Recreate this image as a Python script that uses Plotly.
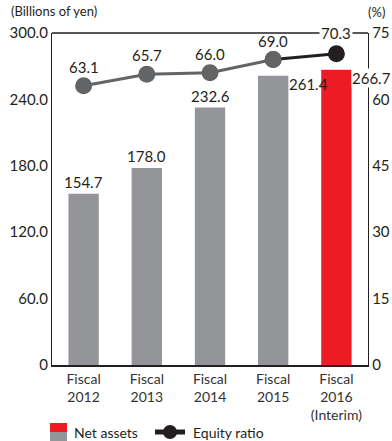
import plotly.graph_objects as go

categories = ["Fiscal<br>2012", "Fiscal<br>2013", "Fiscal<br>2014", "Fiscal<br>2015", "Fiscal<br>2016<br>(Interim)"]
net_assets = [154.7, 178.0, 232.6, 261.4, 266.7]
equity_ratio = [63.1, 65.7, 66.0, 69.0, 70.3]
left_ticks = [0, 60, 120, 180, 240, 300]
left_tick_text = ["0", "60.0", "120.0", "180.0", "240.0", "300.0"]
right_ticks = [0, 15, 30, 45, 60, 75]

GRAY = "#939598"
RED = "#ed1c24"
LINE_GRAY = "#636466"
BLACK = "#231f20"
TXT = "#231f20"
FONT = "Lato, 'Noto Sans', sans-serif"

bar_colors = [GRAY] * 4 + [RED]

fig = go.Figure()
fig.add_trace(go.Bar(
    x=categories, y=net_assets, marker_color=bar_colors, marker_line_width=0,
    showlegend=False, hoverinfo="skip",
))
fig.add_trace(go.Scatter(
    x=categories[:4], y=equity_ratio[:4], yaxis="y2", mode="lines+markers",
    line=dict(color=LINE_GRAY, width=3), marker=dict(size=17, color=LINE_GRAY),
    showlegend=False, hoverinfo="skip", cliponaxis=False,
))
fig.add_trace(go.Scatter(
    x=categories[3:], y=equity_ratio[3:], yaxis="y2", mode="lines+markers",
    line=dict(color=BLACK, width=3), marker=dict(size=17, color=[LINE_GRAY, BLACK]),
    showlegend=False, hoverinfo="skip", cliponaxis=False,
))

lab_font = dict(size=15, color=TXT, family=FONT)
annotations = []
for i, v in enumerate(net_assets):
    if i < 3:
        annotations.append(dict(x=categories[i], y=v, xref="x", yref="y", text=f"{v:.1f}",
                                showarrow=False, yanchor="bottom", yshift=1, font=lab_font))
    else:
        annotations.append(dict(x=categories[i], y=v, xref="x", yref="y", text=f"{v:.1f}",
                                showarrow=False, xanchor="left", yanchor="middle",
                                xshift=15, yshift=-8, font=lab_font,
                                bgcolor="white" if i == 4 else "rgba(0,0,0,0)", borderpad=0))
for i, v in enumerate(equity_ratio):
    if i < 4:
        annotations.append(dict(x=categories[i], y=v, xref="x", yref="y2", text=f"{v:.1f}",
                                showarrow=False, yanchor="bottom", yshift=8, font=lab_font))
    else:
        annotations.append(dict(x=categories[i], y=75, xref="x", yref="y2", text=f"{v:.1f}",
                                showarrow=False, yanchor="middle", bgcolor="white", borderpad=1,
                                font=lab_font))
annotations += [
    dict(x=0, y=1, xref="paper", yref="paper", xshift=-43, yshift=12, text="(Billions of yen)",
         showarrow=False, xanchor="left", yanchor="bottom", font=dict(size=13, color=TXT, family=FONT)),
    dict(x=1, y=1, xref="paper", yref="paper", xshift=19, yshift=11, text="(%)",
         showarrow=False, xanchor="right", yanchor="bottom", font=dict(size=13, color=TXT, family=FONT)),
    dict(x=0, y=0, xref="paper", yref="paper", xshift=20, yshift=-67, text="Net assets",
         showarrow=False, xanchor="left", yanchor="middle", font=dict(size=14, color=TXT, family=FONT)),
    dict(x=0, y=0, xref="paper", yref="paper", xshift=139, yshift=-67, text="Equity ratio",
         showarrow=False, xanchor="left", yanchor="middle", font=dict(size=14, color=TXT, family=FONT)),
]

shapes = [
    dict(type="line", xref="paper", yref="paper", x0=0, x1=1, y0=1, y1=1,
         line=dict(color=TXT, width=1.3), layer="below"),
    dict(type="rect", xref="paper", yref="paper", xsizemode="pixel", ysizemode="pixel",
         xanchor=0, yanchor=0, x0=-2, x1=15, y0=-58, y1=-67, fillcolor=RED, line_width=0),
    dict(type="rect", xref="paper", yref="paper", xsizemode="pixel", ysizemode="pixel",
         xanchor=0, yanchor=0, x0=-2, x1=15, y0=-67, y1=-76, fillcolor=GRAY, line_width=0),
    dict(type="line", xref="paper", yref="paper", xsizemode="pixel", ysizemode="pixel",
         xanchor=0, yanchor=0, x0=103, x1=133, y0=-67, y1=-67, line=dict(color=BLACK, width=5)),
    dict(type="circle", xref="paper", yref="paper", xsizemode="pixel", ysizemode="pixel",
         xanchor=0, yanchor=0, x0=111, x1=125, y0=-60, y1=-74, fillcolor=BLACK, line_width=0),
]

fig.update_layout(
    width=392, height=441,
    margin=dict(l=52, r=24, t=33, b=76, autoexpand=False),
    paper_bgcolor="white", plot_bgcolor="white",
    bargap=0.52,
    font=dict(family=FONT, size=14, color=TXT),
    xaxis=dict(range=[-0.5, 4.5], autorange=False, showline=True, linecolor=TXT, linewidth=2,
               ticks="", showgrid=False, automargin=False,
               tickfont=dict(size=14, color="#333333", family=FONT), tickangle=0),
    yaxis=dict(range=[0, 300], autorange=False, tickvals=left_ticks, ticktext=left_tick_text, showgrid=False,
               showline=True, linecolor=TXT, linewidth=1.3, ticks="", zeroline=False, automargin=False,
               tickfont=dict(size=15, color=TXT, family=FONT)),
    yaxis2=dict(range=[0, 75], autorange=False, tickvals=right_ticks, overlaying="y", side="right",
                showgrid=False, showline=True, linecolor=TXT, linewidth=1.3, ticks="", zeroline=False,
                automargin=False, tickfont=dict(size=15, color=TXT, family=FONT)),
    annotations=annotations,
    shapes=shapes,
    showlegend=False,
)

fig.write_html("out.html")
